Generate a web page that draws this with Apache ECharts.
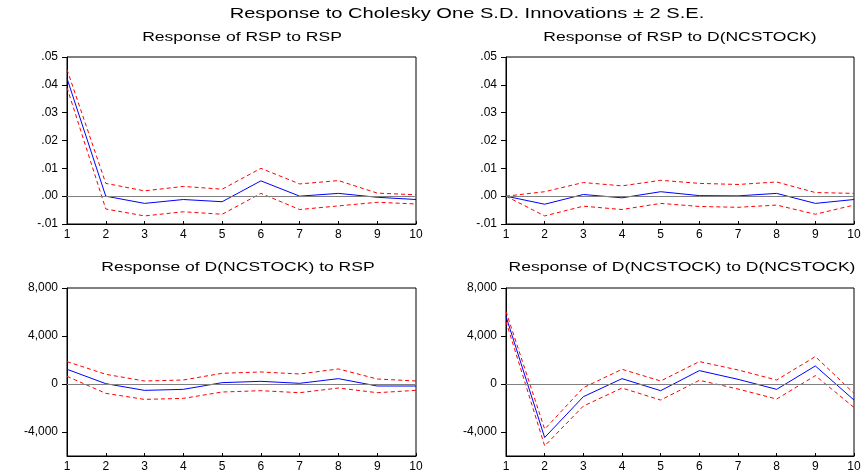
<!DOCTYPE html>
<html>
<head>
<meta charset="utf-8">
<script src="https://cdn.jsdelivr.net/npm/echarts@6/dist/echarts.min.js"></script>
<style>
html,body{margin:0;padding:0;background:#fff;}
#chart{width:867px;height:476px;}
</style>
</head>
<body>
<div id="chart"></div>
<script>
var periods = [1,2,3,4,5,6,7,8,9,10];
var mainTitle = 'Response to Cholesky One S.D. Innovations \u00B1 2 S.E.';
var panelTitles = ['Response of RSP to RSP','Response of RSP to D(NCSTOCK)','Response of D(NCSTOCK) to RSP','Response of D(NCSTOCK) to D(NCSTOCK)'];

// Panel 1: RSP to RSP
var p1Resp  = [0.0423, 0.0000, -0.0026, -0.0012, -0.0020, 0.0055, 0.0000, 0.0010, -0.0004, -0.0012];
var p1Upper = [0.0455, 0.0046, 0.0019, 0.0035, 0.0025, 0.0100, 0.0044, 0.0056, 0.0011, 0.0005];
var p1Lower = [0.0390, -0.0046, -0.0071, -0.0056, -0.0065, 0.0010, -0.0048, -0.0035, -0.0022, -0.0028];

// Panel 2: RSP to D(NCSTOCK)
var p2Resp  = [0.0000, -0.0029, 0.0006, -0.0006, 0.0016, 0.0002, 0.0001, 0.0010, -0.0026, -0.0012];
var p2Upper = [0.0000, 0.0016, 0.0049, 0.0037, 0.0057, 0.0046, 0.0042, 0.0051, 0.0013, 0.0010];
var p2Lower = [0.0000, -0.0071, -0.0036, -0.0048, -0.0026, -0.0037, -0.0040, -0.0032, -0.0065, -0.0032];

// Panel 3: D(NCSTOCK) to RSP
var p3Resp  = [1226, 28, -530, -446, 111, 223, 56, 446, -167, -167];
var p3Upper = [1868, 808, 250, 334, 892, 1003, 836, 1254, 418, 250];
var p3Lower = [641, -780, -1282, -1198, -669, -557, -725, -334, -725, -530];

// Panel 4: D(NCSTOCK) to D(NCSTOCK)
var p4Resp  = [5630, -4460, -1059, 446, -557, 1115, 390, -446, 1505, -1338];
var p4Upper = [6049, -3763, -307, 1226, 250, 1868, 1170, 334, 2286, -780];
var p4Lower = [5213, -5157, -1840, -334, -1338, 307, -418, -1254, 697, -1951];

var bottomTicks = [-4000, 0, 4000, 8000];

var FONT = '"Liberation Sans", Arial, sans-serif';

var grids = [
  {left: 67, top: 57, width: 349, height: 167},
  {left: 506, top: 57, width: 348, height: 167},
  {left: 67, top: 288, width: 349, height: 168},
  {left: 506, top: 288, width: 348, height: 168}
];
grids.forEach(function(g){ g.show = true; g.borderColor = '#000'; g.borderWidth = 1; g.backgroundColor = 'transparent'; });

var panels = [
  {resp: p1Resp, up: p1Upper, lo: p1Lower, top: true},
  {resp: p2Resp, up: p2Upper, lo: p2Lower, top: true},
  {resp: p3Resp, up: p3Upper, lo: p3Lower, top: false},
  {resp: p4Resp, up: p4Upper, lo: p4Lower, top: false}
];

function pairs(arr){ return periods.map(function(p,i){ return [p, arr[i]]; }); }

var xAxes = [], yAxes = [], series = [];
panels.forEach(function(pn, i){
  xAxes.push({
    type: 'value', gridIndex: i, min: 1, max: 10, interval: 1,
    axisLine: {show: true, onZero: false, lineStyle: {color: '#000', width: 1}},
    axisTick: {show: true, inside: true, length: 3, lineStyle: {color: '#000'}},
    axisLabel: {color: '#000', fontFamily: FONT, fontSize: 12, margin: 5},
    splitLine: {show: false}
  });
  var y = {
    type: 'value', gridIndex: i,
    axisLine: {show: true, onZero: false, lineStyle: {color: '#000', width: 1}},
    axisTick: {show: true, inside: false, length: 5, lineStyle: {color: '#000'}},
    splitLine: {show: false},
    axisLabel: {color: '#000', fontFamily: FONT, fontSize: 12, margin: 9}
  };
  if (pn.top) {
    y.min = -0.01; y.max = 0.05; y.interval = 0.01;
    y.axisLabel.formatter = function(v){
      var s = Math.abs(v) < 1e-9 ? '0.00' : v.toFixed(2);
      return s.replace('0.', '.');
    };
  } else {
    y.min = -6000; y.max = 8000;
    y.axisTick.customValues = bottomTicks;
    y.axisLabel.customValues = bottomTicks;
    y.axisLabel.formatter = function(v){ return v.toLocaleString('en-US'); };
  }
  yAxes.push(y);
  series.push({
    type: 'line', xAxisIndex: i, yAxisIndex: i, data: pairs(pn.resp),
    symbol: 'none', silent: true, z: 3,
    lineStyle: {color: '#0000ff', width: 1},
    markLine: {
      silent: true, symbol: 'none', label: {show: false},
      lineStyle: {color: '#808080', type: 'solid', width: 1},
      data: [{yAxis: 0}], animation: false
    }
  });
  series.push({
    type: 'line', xAxisIndex: i, yAxisIndex: i, data: pairs(pn.up),
    symbol: 'none', silent: true, z: 2,
    lineStyle: {color: '#ff0000', width: 1, type: [4, 3]}
  });
  series.push({
    type: 'line', xAxisIndex: i, yAxisIndex: i, data: pairs(pn.lo),
    symbol: 'none', silent: true, z: 2,
    lineStyle: {color: '#ff0000', width: 1, type: [4, 3]}
  });
});

function titleText(txt, cx, cy, size, sx){
  return {
    type: 'text', x: cx, y: cy, scaleX: sx, silent: true,
    style: {text: txt, fontFamily: FONT, fontSize: size, fill: '#000', align: 'center', verticalAlign: 'middle'}
  };
}
var graphics = [
  titleText(mainTitle, 467, 14, 15, 1.34),
  titleText(panelTitles[0], 242, 38, 12, 1.46),
  titleText(panelTitles[1], 680, 38, 12, 1.46),
  titleText(panelTitles[2], 238, 268, 12, 1.46),
  titleText(panelTitles[3], 682, 268, 12, 1.46)
];

var chart = echarts.init(document.getElementById('chart'), null, {renderer: 'canvas'});
chart.setOption({
  animation: false,
  backgroundColor: '#fff',
  grid: grids,
  xAxis: xAxes,
  yAxis: yAxes,
  series: series,
  graphic: graphics
});
</script>
</body>
</html>
